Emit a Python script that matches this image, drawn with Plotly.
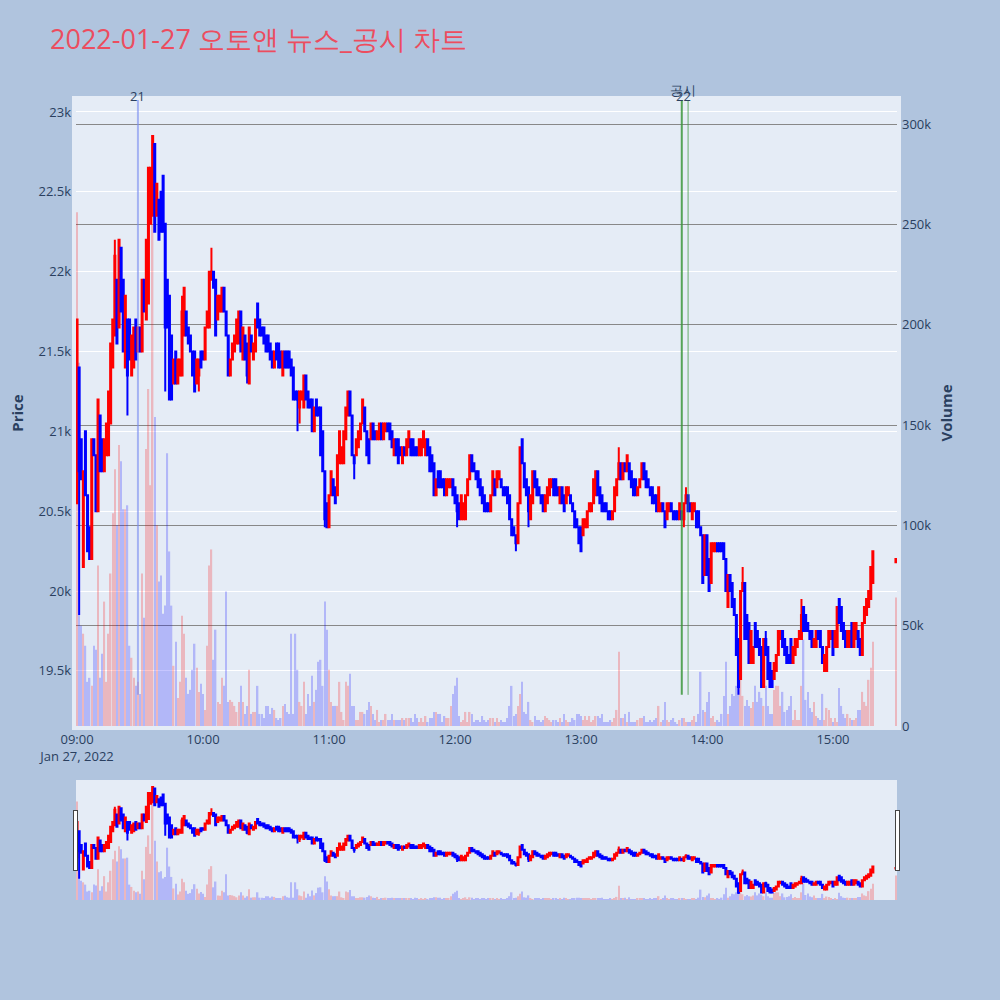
import plotly.graph_objects as go
import pandas as pd

# minutes after 09:00 (regular session 09:00-15:19, closing auction 15:30)
minutes = list(range(0, 380)) + [390]

opens = [
    20550,21400,20950,20150,21000,20600,20400,20200,20950,20850,
    20500,21100,20950,20750,20850,20850,21050,21400,21600,21950,
    21650,22150,21950,21400,21700,21700,21350,21400,21700,21500,
    21650,21500,21950,21700,21800,22300,22350,22800,22350,22450,
    22500,22600,22300,21950,21850,21600,21300,21500,21300,21350,
    21350,21600,21750,21650,21600,21500,21500,21300,21350,21500,
    21500,21450,21650,21650,21950,22000,21950,21700,21750,21750,
    21900,21750,21600,21350,21450,21500,21550,21550,21750,21450,
    21600,21550,21300,21600,21450,21500,21800,21700,21650,21650,
    21600,21600,21550,21500,21400,21550,21550,21500,21350,21500,
    21500,21500,21450,21400,21250,21250,21150,21200,21150,21350,
    21250,21200,21200,21000,21200,21150,21150,21000,20750,20550,
    20400,20600,20700,20650,20600,20800,20800,20800,20950,21100,
    21250,21100,20850,20850,20900,20950,21050,21150,21000,20950,
    20950,21050,21000,20950,20950,21050,20950,21000,21050,21050,
    21000,20850,20950,20950,20900,20800,20900,20850,20900,20950,
    20950,20900,20900,20850,20850,20900,20850,20950,20900,20850,
    20800,20600,20750,20750,20700,20700,20600,20650,20650,20700,
    20650,20600,20550,20450,20450,20450,20600,20700,20850,20800,
    20750,20750,20700,20650,20600,20550,20550,20500,20600,20700,
    20650,20700,20700,20650,20650,20650,20600,20450,20400,20350,
    20300,20550,20950,20800,20700,20650,20450,20550,20750,20700,
    20650,20600,20600,20500,20550,20600,20650,20700,20700,20650,
    20550,20650,20600,20550,20600,20600,20550,20500,20450,20400,
    20400,20350,20400,20400,20500,20500,20550,20600,20750,20650,
    20600,20550,20550,20500,20500,20450,20500,20600,20700,20800,
    20700,20800,20750,20800,20750,20700,20700,20600,20650,20700,
    20800,20750,20700,20650,20650,20600,20600,20500,20500,20550,
    20500,20450,20500,20550,20500,20500,20500,20450,20500,20450,
    20550,20600,20550,20450,20500,20500,20500,20400,20350,20100,
    20350,20200,20050,20250,20250,20300,20300,20300,20300,20200,
    19900,20100,20050,19950,19850,19700,19450,20000,20050,19850,
    19800,19550,19550,19800,19750,19700,19650,19400,19700,19650,
    19550,19500,19450,19500,19600,19700,19750,19700,19650,19600,
    19700,19550,19600,19650,19700,19700,19900,19850,19800,19750,
    19750,19650,19650,19750,19750,19650,19500,19500,19650,19700,
    19750,19650,19650,19950,19900,19800,19750,19650,19650,19800,
    19650,19700,19750,19700,19600,19800,19850,19900,19950,20050,
    20180,
]

closes = [
    21700,20750,20700,20750,20600,20250,20200,20950,20850,20500,
    21200,20750,20750,20950,21050,21250,21550,21700,22100,21550,
    22200,21750,21500,21850,21350,21450,21600,21650,21450,21650,
    21500,21950,21750,22200,22650,22650,22850,22250,22550,22200,
    22250,22250,21650,21650,21200,21200,21450,21300,21450,21450,
    21750,21900,21600,21550,21500,21350,21250,21450,21450,21400,
    21450,21650,21750,22000,22000,21900,21600,21850,21850,21900,
    21750,21600,21350,21450,21550,21600,21700,21750,21500,21650,
    21450,21350,21650,21500,21550,21700,21650,21600,21600,21550,
    21500,21500,21450,21400,21500,21450,21400,21400,21500,21400,
    21400,21400,21350,21200,21200,21200,21250,21250,21350,21200,
    21150,21150,21000,21150,21100,21100,20850,20750,20450,20400,
    20600,20750,20600,20550,20850,21000,20900,21000,21150,21250,
    21100,20850,20800,20950,21000,21050,21200,21000,20850,20800,
    21050,20950,20950,21000,21050,20950,21050,21050,21000,20950,
    20900,20950,20850,20800,20850,20900,20850,20950,21000,20850,
    20850,20850,20850,20950,20950,21000,20950,20850,20750,20750,
    20600,20700,20650,20650,20650,20600,20700,20700,20700,20600,
    20550,20500,20450,20600,20550,20600,20700,20850,20750,20750,
    20700,20650,20600,20550,20500,20500,20500,20600,20750,20600,
    20750,20750,20650,20600,20600,20550,20450,20350,20350,20300,
    20550,20900,20800,20650,20600,20500,20600,20750,20650,20600,
    20600,20550,20500,20600,20650,20700,20700,20600,20600,20600,
    20650,20550,20500,20650,20650,20550,20500,20400,20400,20300,
    20250,20450,20450,20500,20550,20550,20700,20750,20600,20550,
    20500,20500,20500,20450,20450,20500,20650,20700,20800,20700,
    20800,20750,20850,20700,20650,20600,20600,20650,20700,20800,
    20700,20650,20650,20600,20550,20550,20500,20650,20550,20500,
    20400,20550,20550,20500,20450,20450,20450,20550,20450,20550,
    20600,20500,20500,20550,20550,20400,20400,20350,20050,20350,
    20100,20000,20300,20300,20300,20250,20250,20250,20200,20000,
    20100,20000,19900,19850,19600,19400,20000,20050,19700,19700,
    19550,19750,19650,19650,19650,19600,19400,19700,19600,19450,
    19400,19400,19550,19600,19750,19750,19650,19600,19550,19550,
    19550,19650,19700,19700,19750,19850,19750,19750,19750,19700,
    19650,19700,19750,19700,19650,19550,19600,19650,19750,19750,
    19600,19750,19900,19800,19750,19700,19650,19750,19750,19650,
    19800,19800,19650,19600,19800,19900,19950,20000,20150,20250,
    20200,
]

# wicks that reach beyond the candle body (minute index -> price)
high_wicks = {18: 22200, 50: 21850, 64: 22150, 212: 20950, 258: 20900,
              290: 20650, 317: 20150, 328: 19750, 345: 19950, 363: 19950}
low_wicks = {1: 19850, 24: 21100, 42: 21250, 58: 21250, 81: 21300,
             105: 21000, 106: 21050, 118: 20400, 132: 20700, 181: 20400,
             209: 20250, 215: 20400, 289: 20400, 315: 19350}

volumes_k = [
    256,181,50,46,40,22,24,20,40,38,
    80,24,36,62,22,46,76,106,128,100,
    140,132,108,108,110,40,34,24,20,22,
    16,76,54,138,168,120,290,154,100,72,
    75,56,60,136,87,60,30,42,14,22,
    55,46,24,16,18,28,41,29,17,21,
    16,8,40,80,88,33,48,12,11,24,
    20,67,12,13,12,10,7,12,20,12,
    6,10,28,6,7,7,20,6,6,4,
    10,10,6,9,8,4,3,4,10,11,
    7,6,46,6,46,28,12,10,22,6,
    16,10,25,12,18,32,33,20,62,48,
    28,12,10,10,10,22,7,3,22,20,
    26,10,10,3,3,7,7,6,8,12,
    10,6,3,8,2,3,3,6,3,3,
    6,3,3,3,3,4,3,4,4,4,
    2,6,4,2,4,2,5,2,4,4,
    7,7,6,6,2,5,4,4,10,16,
    20,24,5,2,3,7,2,7,6,2,
    3,3,2,5,3,2,3,4,4,2,
    4,2,3,2,2,4,10,20,5,6,
    10,16,22,7,6,12,3,2,5,3,
    3,2,3,5,4,3,2,3,3,2,
    4,2,6,3,2,2,4,3,6,6,
    5,3,5,3,5,2,3,5,5,4,
    6,2,2,2,3,2,4,8,37,4,
    4,6,2,7,2,2,2,3,4,4,
    5,2,2,3,2,3,4,10,2,3,
    12,3,2,3,4,2,1,3,4,4,
    2,2,2,3,5,2,6,27,8,7,
    12,17,4,5,2,3,2,6,15,32,
    6,10,16,15,20,24,23,15,10,13,
    10,9,12,20,12,17,14,10,20,10,
    6,6,18,20,20,10,17,7,8,10,
    15,3,8,3,3,20,43,13,17,9,
    7,12,5,4,3,16,3,9,8,4,
    2,4,2,19,10,6,4,6,4,3,
    3,4,8,8,17,12,10,23,29,42,
    64,
]

# news / disclosure marker lines
line_times = ["2022-01-27 09:29", "2022-01-27 13:48", "2022-01-27 13:51"]
line_colors = ["rgba(120,140,240,0.6)", "rgba(60,150,60,0.85)", "rgba(60,150,60,0.75)"]
line_widths = [2, 2, 1]
line_bottom_price = 19350
line_top_price = 23100
# marker labels
label_times = ["2022-01-27 09:29", "2022-01-27 13:48:45", "2022-01-27 13:48:45"]
label_texts = ["21", "22", "공시"]
label_shifts = [4, 4, 10]

title_text = "2022-01-27 오토앤 뉴스_공시 차트"

# ---------------------------------------------------------------
times = pd.Timestamp("2022-01-27 09:00") + pd.to_timedelta(minutes, unit="m")
highs = [max(o, c) for o, c in zip(opens, closes)]
lows = [min(o, c) for o, c in zip(opens, closes)]
for k, v in high_wicks.items():
    highs[k] = max(highs[k], v)
for k, v in low_wicks.items():
    lows[k] = min(lows[k], v)
volumes = [v * 1000 for v in volumes_k]
vol_colors = ["red" if c > o else "blue" for o, c in zip(opens, closes)]

fig = go.Figure()
fig.add_trace(go.Bar(
    x=times, y=volumes, marker=dict(color=vol_colors, line=dict(width=0)),
    opacity=0.22, yaxis="y", showlegend=False, name="Volume"))
fig.add_trace(go.Candlestick(
    x=times, open=opens, high=highs, low=lows, close=closes,
    increasing=dict(line=dict(color="red", width=2), fillcolor="red"),
    decreasing=dict(line=dict(color="blue", width=2), fillcolor="blue"),
    yaxis="y2", showlegend=False, name="Price"))

for t, col, w in zip(line_times, line_colors, line_widths):
    fig.add_shape(type="line", xref="x", yref="y2", x0=t, x1=t,
                  y0=line_bottom_price, y1=line_top_price,
                  line=dict(color=col, width=w))
for t, lab, sh in zip(label_times, label_texts, label_shifts):
    fig.add_annotation(x=t, xref="x", y=1, yref="paper", text=lab,
                       showarrow=False, yanchor="middle", yshift=sh,
                       font=dict(size=13, color="#2a3f5f"))

fig.update_layout(
    width=1000, height=1000,
    paper_bgcolor="#B0C4DE", plot_bgcolor="#E5ECF6",
    margin=dict(l=76, r=103, t=100, b=100, pad=4),
    title=dict(text=title_text, x=0.05, xanchor="left", y=0.96, yanchor="middle",
               font=dict(size=27, color="#EC4D5F")),
    showlegend=False,
    bargap=0.3,
    xaxis=dict(type="date", showgrid=False,
               range=["2022-01-27 08:59:30", "2022-01-27 15:30:30"],
               rangeslider=dict(visible=True, bgcolor="#E5ECF6", thickness=0.15),
               tickfont=dict(size=13, color="#2a3f5f")),
    yaxis=dict(side="right", range=[0, 312000], dtick=50000,
               showgrid=True, gridcolor="#888888", gridwidth=1, zeroline=False,
               title=dict(text="<b>Volume</b>", font=dict(size=15, color="#2a3f5f")),
               tickfont=dict(size=13, color="#2a3f5f")),
    yaxis2=dict(overlaying="y", side="left", range=[19155, 23075], dtick=500,
                showgrid=True, gridcolor="white", gridwidth=1, zeroline=False,
                title=dict(text="<b>Price</b>", font=dict(size=15, color="#2a3f5f")),
                tickfont=dict(size=13, color="#2a3f5f")),
)

fig.write_html("out.html", config={"displayModeBar": False},
               post_script="document.body.style.margin='0';")
